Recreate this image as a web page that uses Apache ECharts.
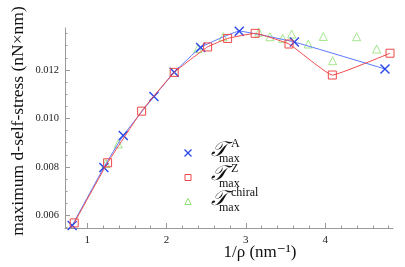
<!DOCTYPE html>
<html><head><meta charset="utf-8">
<script src="https://cdn.jsdelivr.net/npm/echarts@6/dist/echarts.min.js"></script>
<style>html,body{margin:0;padding:0;background:#fff}#c{width:405px;height:267px}</style>
</head><body><div id="c"></div>
<script>
const xA = [0.81, 1.21, 1.454, 1.841, 2.097, 2.43, 2.917, 3.612, 4.754];
const yA = [0.00558, 0.00798, 0.00930, 0.01090, 0.01190, 0.01293, 0.01360, 0.01315, 0.01204];
const xZ = [0.836, 1.257, 1.686, 2.097, 2.518, 2.77, 3.117, 3.544, 4.09, 4.817];
const yZ = [0.00569, 0.00817, 0.01030, 0.01190, 0.01295, 0.01330, 0.01351, 0.01307, 0.01179, 0.01269];
const xC = [1.236, 1.391, 2.396, 2.715, 3.165, 3.304, 3.464, 3.577, 3.787, 3.976, 4.094, 4.397, 4.649];
const yC = [0.00814, 0.00895, 0.01288, 0.01337, 0.01356, 0.01337, 0.01330, 0.01348, 0.01307, 0.01338, 0.01238, 0.01337, 0.01286];
const xTickLabels = [1, 2, 3, 4];
const xMinorTicks = [0.8, 1.2, 1.4, 1.6, 1.8, 2.2, 2.4, 2.6, 2.8, 3.2, 3.4, 3.6, 3.8, 4.2, 4.4, 4.6, 4.8];
const yTickLabels = [0.006, 0.008, 0.010, 0.012];
const yMinorTicks = [0.0055, 0.0065, 0.007, 0.0075, 0.0085, 0.009, 0.0095, 0.0105, 0.011, 0.0115, 0.0125, 0.013, 0.0135];
const names = ['A', 'Z', 'chiral'];

const serif = '"Liberation Serif", "DejaVu Serif", serif';
const cBlue = '#2a48e8', cBlueLine = '#5a78ff', cRed = '#f04848', cGreen = '#8fe070';
const crossPath = 'path://M0,1 L1,0 L5,4 L9,0 L10,1 L6,5 L10,9 L9,10 L5,6 L1,10 L0,9 L4,5 Z';
const zip = (xs, ys) => xs.map((x, i) => [x, ys[i]]);

const axisCol = '#9a9a9a';
const chart = echarts.init(document.getElementById('c'), null, {renderer: 'canvas'});
function legLabel(y, sup) {
  return [
    {type: 'text', x: 211, y: y - 3, style: {text: '\uD835\uDCAF', font: 'italic 21px ' + serif, fill: '#111', align: 'left', verticalAlign: 'middle'}},
    {type: 'text', x: 231, y: y - 9, style: {text: sup, font: '12px ' + serif, fill: '#111', align: 'left', verticalAlign: 'middle'}},
    {type: 'text', x: 219, y: y + 6, style: {text: 'max', font: '12px ' + serif, fill: '#111', align: 'left', verticalAlign: 'middle'}}
  ];
}
const lx = 188;
const legendSymbols = [
  {type: 'polyline', shape: {points: [[lx - 3.5, 153 - 3.5], [lx + 3.5, 153 + 3.5]]}, style: {stroke: cBlue, lineWidth: 1.2, fill: null}},
  {type: 'polyline', shape: {points: [[lx + 3.5, 153 - 3.5], [lx - 3.5, 153 + 3.5]]}, style: {stroke: cBlue, lineWidth: 1.2, fill: null}},
  {type: 'rect', shape: {x: lx - 3, y: 177.5 - 3, width: 6, height: 6}, style: {stroke: cRed, lineWidth: 1, fill: null}},
  {type: 'polygon', shape: {points: [[lx, 202 - 3.5], [lx + 3.2, 202 + 2.5], [lx - 3.2, 202 + 2.5]]}, style: {stroke: cGreen, lineWidth: 1, fill: null}}
];
chart.setOption({
  animation: false,
  grid: {left: 65, right: 12, top: 28, bottom: 39},
  xAxis: [{
    type: 'value', min: 0.72, max: 4.855,
    axisLine: {lineStyle: {color: axisCol, width: 1}},
    axisTick: {inside: true, length: 5, customValues: xTickLabels, lineStyle: {color: axisCol}},
    axisLabel: {customValues: xTickLabels, fontFamily: serif, fontSize: 11, color: '#222', margin: 7},
    splitLine: {show: false}
  }, {
    type: 'value', min: 0.72, max: 4.855, position: 'bottom',
    axisLine: {show: false},
    axisTick: {inside: true, length: 2.5, customValues: xMinorTicks, lineStyle: {color: axisCol}},
    axisLabel: {show: false}, splitLine: {show: false}
  }],
  yAxis: [{
    type: 'value', min: 0.00548, max: 0.01373,
    axisLine: {show: true, lineStyle: {color: axisCol, width: 1}},
    axisTick: {show: true, inside: true, length: 5, customValues: yTickLabels, lineStyle: {color: axisCol}},
    axisLabel: {customValues: yTickLabels, formatter: v => v.toFixed(3), fontFamily: serif, fontSize: 10.5, color: '#222', margin: 6},
    splitLine: {show: false}
  }, {
    type: 'value', min: 0.00548, max: 0.01373, position: 'left',
    axisLine: {show: false},
    axisTick: {show: true, inside: true, length: 2.5, customValues: yMinorTicks, lineStyle: {color: axisCol}},
    axisLabel: {show: false}, splitLine: {show: false}
  }],
  series: [
    {name: names[2], type: 'scatter', data: zip(xC, yC), symbol: 'triangle', symbolSize: 8,
     itemStyle: {color: 'rgba(255,255,255,0)', borderColor: cGreen, borderWidth: 1}, z: 2},
    {name: names[0], type: 'line', data: zip(xA, yA), symbol: crossPath, symbolSize: 10, smooth: 0.1,
     lineStyle: {color: cBlueLine, width: 1}, itemStyle: {color: cBlue}, z: 3},
    {name: names[1], type: 'line', data: zip(xZ, yZ), symbol: 'rect', symbolSize: 8, smooth: 0.1,
     lineStyle: {color: cRed, width: 1}, itemStyle: {color: 'rgba(255,255,255,0)', borderColor: cRed, borderWidth: 1}, z: 4}
  ],
  graphic: [
    {type: 'text', x: 18, y: 121, rotation: Math.PI / 2,
     style: {text: 'maximum d-self-stress (nN\u00D7nm)', font: '17.5px ' + serif, fill: '#111', align: 'center', verticalAlign: 'middle'}},
    {type: 'text', x: 260, y: 253,
     style: {text: '1/\u03C1 (nm\u207B\u00B9)', font: '17px ' + serif, fill: '#111', align: 'center', verticalAlign: 'middle'}}
  ].concat(legendSymbols, legLabel(153, 'A'), legLabel(177.5, 'Z'), legLabel(202, 'chiral'))
});
</script></body></html>
